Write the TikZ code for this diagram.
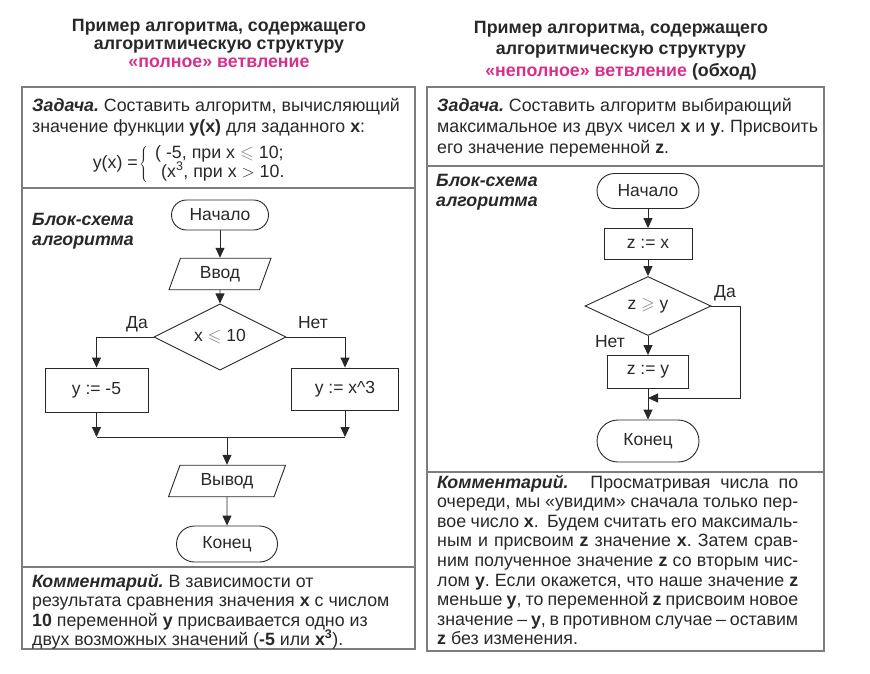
\documentclass[tikz,border=0pt]{standalone}
\usepackage{fontspec}
\usepackage{amssymb}
\setmainfont{Liberation Sans}
\usetikzlibrary{arrows.meta,shapes.geometric}
\definecolor{titlepink}{RGB}{214,48,140}
\definecolor{ink}{RGB}{40,40,40}
\definecolor{framegray}{RGB}{125,125,125}
\newcommand\bodyfont{\fontsize{17.8}{19}\selectfont}
\newcommand\chartfont{\fontsize{17.5}{19}\selectfont}
\newcommand\titlefont{\fontsize{17.8}{19}\selectfont\bfseries}
\newcommand\bi[1]{\textbf{\textit{#1}}}
\frenchspacing
\tikzset{
  box/.style={draw=ink, line width=0.9pt, chartfont},
  chartfont/.style={font=\chartfont},
  terminal/.style={box, rectangle},
  process/.style={box, rectangle},
  decision/.style={box, diamond},
  inout/.style={box, trapezium, trapezium left angle=70, trapezium right angle=110, trapezium stretches body, inner ysep=8pt},
  flow/.style={draw=ink, line width=0.9pt, -{Triangle[length=10pt,width=9pt]}},
  title/.style={font=\titlefont, anchor=base},
  line/.style={anchor=base west, font=\bodyfont}
}

\begin{document}
\begin{tikzpicture}[x=1pt, y=-1pt, every node/.style={text=ink, inner sep=0pt}]
		\useasboundingbox (0,0) rectangle (870,673);
		%%%%% FRAMES %%%%%
		\draw[framegray, line width=1.6pt] (22,87) rectangle (415,649);
		\draw[framegray, line width=1.6pt] (22,188) -- (415,188);
		\draw[framegray, line width=1.6pt] (22,567) -- (415,567);
		\draw[framegray, line width=1.6pt] (427,87) rectangle (824,651);
		\draw[framegray, line width=1.6pt] (427,166) -- (824,166);
		\draw[framegray, line width=1.6pt] (427,472) -- (824,472);
		
		%%%%% TITLES %%%%%
		\node[title] (title1a) at (219,31) {Пример алгоритма, содержащего};
		\node[title] (title1b) at (219,49) {алгоритмическую структуру};
		\node[title, text=titlepink] (title1c) at (219,67) {«полное» ветвление};
		\node[title] (title2a) at (621,33) {Пример алгоритма, содержащего};
		\node[title] (title2b) at (621,54.5) {алгоритмическую структуру};
		\node[title] (title2c) at (621,76) {\textcolor{titlepink}{«неполное» ветвление} (обход)};
		
		%%%%% LEFT: TASK %%%%%
		\node[line] (task1a) at (32,111) {\bi{Задача.} Составить алгоритм, вычисляющий};
		\node[line] (task1b) at (32,132) {значение функции \textbf{y(x)} для заданного \textbf{x}:};
		\node[anchor=base east, font=\bodyfont] (yx) at (138,168) {y(x) =};
		\node[anchor=west] (brace1) at (139,165) {$\left\{\vrule width 0pt height 18pt depth 17pt\right.$};
		\node[line] (case1a) at (155,158) {( -5, при x {\color{ink!60}$\leqslant$} 10;};
		\node[line] (case1b) at (161,177) {(x\textsuperscript{3}, при x $>$ 10.};
		
		%%%%% LEFT: CHART %%%%%
		\node[line, font=\bodyfont\bfseries\itshape] (chart1a) at (32,225) {Блок-схема};
		\node[line, font=\bodyfont\bfseries\itshape] (chart1b) at (32,245) {алгоритма};
		
		\node[terminal, minimum width=97pt, minimum height=30pt, rounded corners=15pt] (start1) at (220,215) {Начало};
		\node[inout, minimum width=102pt] (in1) at (220,274) {Ввод};
		\node[decision, minimum width=132pt, minimum height=47pt] (cond1) at (220,337) {x {\color{ink!60}$\leqslant$} 10};
		\node[process, minimum width=103pt, minimum height=44pt] (yes1) at (96.5,390) {y := -5};
		\node[process, minimum width=107pt, minimum height=42pt] (no1) at (345,389) {y := x\^{}3};
		\node[inout, minimum width=117pt] (out1) at (227,481) {Вывод};
		\node[terminal, minimum width=101pt, minimum height=36pt, rounded corners=18pt] (end1) at (227,544) {Конец};
		\coordinate (join1) at (227,437);
		
		\node[anchor=base, font=\chartfont] (yeslbl1) at (137,328) {Да};
		\node[anchor=base, font=\chartfont] (nolbl1) at (313,328) {Нет};
		
		\draw[flow] (start1) -- (in1);
		\draw[flow] (in1) -- (cond1);
		\draw[flow] (cond1.west) -| (yes1.north);
		\draw[flow] (cond1.east) -| (no1.north);
		\draw[flow] (yes1.south) -- (yes1.south |- join1);
		\draw[flow] (no1.south) -- (no1.south |- join1);
		\draw[draw=ink, line width=0.9pt] (yes1.south |- join1) -- (no1.south |- join1);
		\draw[flow] (join1) -- (out1);
		\draw[flow] (out1) -- (end1);
		
		%%%%% LEFT: COMMENT %%%%%
		\node[line] (note1a) at (32,587) {\bi{Комментарий.} В зависимости от};
		\node[line] (note1b) at (32,606) {результата сравнения значения \textbf{x} с числом};
		\node[line] (note1c) at (32,626) {\textbf{10} переменной \textbf{y} присваивается одно из};
		\node[line] (note1d) at (32,645) {двух возможных значений (\textbf{-5} или \textbf{x\textsuperscript{3}}).};
		
		%%%%% RIGHT: TASK %%%%%
		\node[line] (task2a) at (437,111) {\bi{Задача.} Составить алгоритм выбирающий};
		\node[line] (task2b) at (437,132) {максимальное из двух чисел \textbf{x} и \textbf{y}. Присвоить};
		\node[line] (task2c) at (437,153) {его значение переменной \textbf{z}.};
		
		%%%%% RIGHT: CHART %%%%%
		\node[line, font=\bodyfont\bfseries\itshape] (chart2a) at (436,186) {Блок-схема};
		\node[line, font=\bodyfont\bfseries\itshape] (chart2b) at (436,206) {алгоритма};
		
		\node[terminal, minimum width=102pt, minimum height=35pt, rounded corners=17.5pt] (start2) at (648,191) {Начало};
		\node[process, minimum width=88pt, minimum height=31pt] (set2) at (648,244) {z := x};
		\node[decision, minimum width=126pt, minimum height=59pt] (cond2) at (648,306) {z {\color{ink!60}$\geqslant$} y};
		\node[process, minimum width=81pt, minimum height=33pt] (upd2) at (648,372) {z := y};
		\node[terminal, minimum width=102pt, minimum height=42pt, rounded corners=21pt] (end2) at (648,441) {Конец};
		\coordinate (join2) at (648,398);
		
		\node[anchor=base, font=\chartfont] (yeslbl2) at (725,297) {Да};
		\node[anchor=base, font=\chartfont] (nolbl2) at (610,347) {Нет};
		
		\draw[flow] (start2) -- (set2);
		\draw[flow] (set2) -- (cond2);
		\draw[flow] (cond2) -- (upd2);
		\draw[flow] (cond2.east) -- ++(29,0) |- (join2);
		\draw[flow] (upd2) -- (end2);
		
		%%%%% RIGHT: COMMENT %%%%%
		\node[line] (note2a) at (437,488) {\makebox[361pt][s]{\bi{Комментарий.}\hspace{12pt} Просматривая числа по}};
		\node[line] (note2b) at (437,507.6) {\makebox[361pt][s]{очереди, мы «увидим» сначала только пер-}};
		\node[line] (note2c) at (437,527.2) {\makebox[361pt][s]{вое число \textbf{x}.\hspace{4pt} Будем считать его максималь-}};
		\node[line] (note2d) at (437,546.8) {\makebox[361pt][s]{ным и присвоим \textbf{z} значение \textbf{x}. Затем срав-}};
		\node[line] (note2e) at (437,566.4) {\makebox[361pt][s]{ним полученное значение \textbf{z} со вторым чис-}};
		\node[line] (note2f) at (437,586) {\makebox[361pt][s]{лом \textbf{y}. Если окажется, что наше значение \textbf{z}}};
		\node[line] (note2g) at (437,605.6) {\makebox[361pt][s]{меньше \textbf{y}, то переменной \textbf{z} присвоим новое}};
		\node[line] (note2h) at (437,625.2) {\makebox[361pt][s]{значение – \textbf{y}, в противном случае – оставим}};
		\node[line] (note2i) at (437,644.8) {\textbf{z} без изменения.};
\end{tikzpicture}
\end{document}
